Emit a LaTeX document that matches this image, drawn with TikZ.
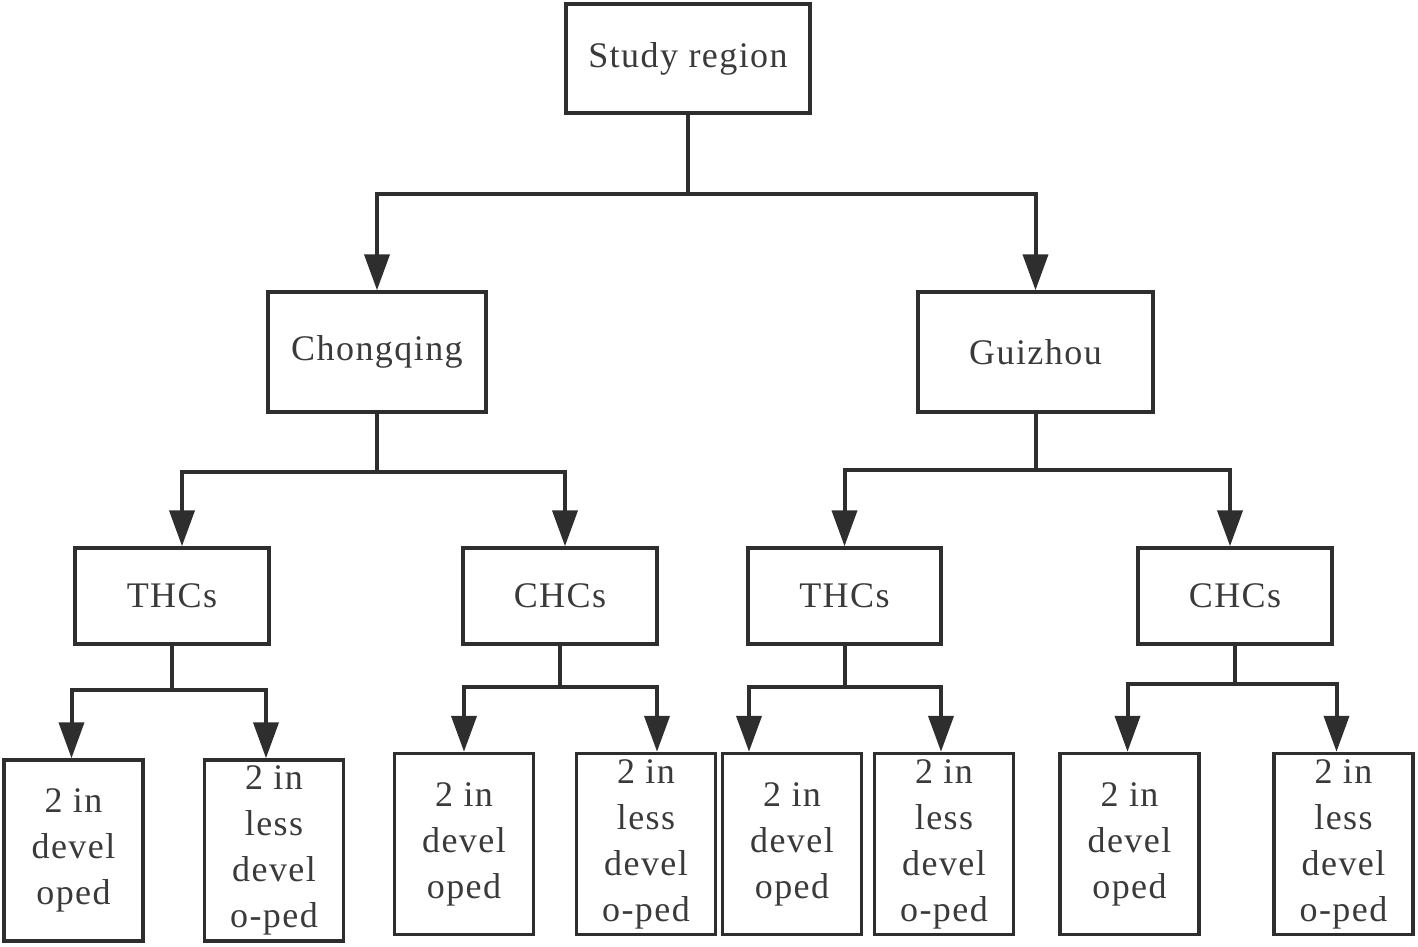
\documentclass[tikz,border=0pt]{standalone}
\usepackage{fontspec}
\setmainfont{Liberation Serif}[LetterSpace=4]
\usetikzlibrary{arrows.meta}
\definecolor{ln}{HTML}{2E2E2E}
\definecolor{tx}{HTML}{3A3A3A}
\begin{document}
\begin{tikzpicture}[x=1pt,y=-1pt,
  box/.style={draw=ln,line width=3.5pt,inner sep=0pt,align=center,text=tx,
    font=\fontsize{36}{46}\selectfont},
  leaf/.style={box,minimum width=139pt,minimum height=181pt},
  conn/.style={draw=ln,line width=4pt},
  arr/.style={conn,-{Triangle[length=36pt,width=25pt]}}]
\useasboundingbox (0,0) rectangle (1418,946);
% level 0
\node[box,minimum width=244pt,minimum height=109pt] (study) at (688,58.5) {Study region};
% level 1
\node[box,minimum width=218pt,minimum height=120pt] (chong) at (377,352) {Chongqing};
\node[box,minimum width=235pt,minimum height=120pt] (gui) at (1035.5,352) {Guizhou};
% level 2
\node[box,minimum width=194pt,minimum height=96pt] (thc1) at (172,596) {THCs};
\node[box,minimum width=194pt,minimum height=96pt] (chc1) at (560,596) {CHCs};
\node[box,minimum width=193pt,minimum height=96pt] (thc2) at (844.5,596) {THCs};
\node[box,minimum width=194pt,minimum height=96pt] (chc2) at (1235,596) {CHCs};
% level 3
\node[leaf] (b1) at (73.5,850.5) {2 in\\devel\\oped};
\node[leaf] (b2) at (274,850.5) {2 in\\less\\devel\\o-ped};
\node[leaf] (b3) at (464,844) {2 in\\devel\\oped};
\node[leaf] (b4) at (646,844) {2 in\\less\\devel\\o-ped};
\node[leaf] (b5) at (792,844) {2 in\\devel\\oped};
\node[leaf] (b6) at (944,844) {2 in\\less\\devel\\o-ped};
\node[leaf] (b7) at (1129.5,844) {2 in\\devel\\oped};
\node[leaf] (b8) at (1343.5,844) {2 in\\less\\devel\\o-ped};
% junctions
\path (study.south) ++(0,79) coordinate (j0);
\path (chong.south) ++(0,58) coordinate (j1);
\path (gui.south) ++(0,56) coordinate (j2);
\path (thc1.south) ++(0,44) coordinate (j3);
\path (chc1.south) ++(0,41) coordinate (j4);
\path (thc2.south) ++(0,41) coordinate (j5);
\path (chc2.south) ++(0,38) coordinate (j6);
% connectors
\draw[conn] (study.south) -- (j0);
\draw[arr] (j0) -| (chong.north);
\draw[arr] (j0) -| (gui.north);
\draw[conn] (chong.south) -- (j1);
\draw[arr] (j1) -| ([xshift=10pt]thc1.north);
\draw[arr] (j1) -| ([xshift=5pt]chc1.north);
\draw[conn] (gui.south) -- (j2);
\draw[arr] (j2) -| (thc2.north);
\draw[arr] (j2) -| ([xshift=-5pt]chc2.north);
\draw[conn] (thc1.south) -- (j3);
\draw[arr] (j3) -| ([xshift=-2pt]b1.north);
\draw[arr] (j3) -| ([xshift=-8pt]b2.north);
\draw[conn] (chc1.south) -- (j4);
\draw[arr] (j4) -| (b3.north);
\draw[arr] (j4) -| ([xshift=11pt]b4.north);
\draw[conn] (thc2.south) -- (j5);
\draw[arr] (j5) -| ([xshift=-43pt]b5.north);
\draw[arr] (j5) -| ([xshift=-3pt]b6.north);
\draw[conn] (chc2.south) -- (j6);
\draw[arr] (j6) -| ([xshift=-2pt]b7.north);
\draw[arr] (j6) -| ([xshift=-7pt]b8.north);
\end{tikzpicture}
\end{document}
